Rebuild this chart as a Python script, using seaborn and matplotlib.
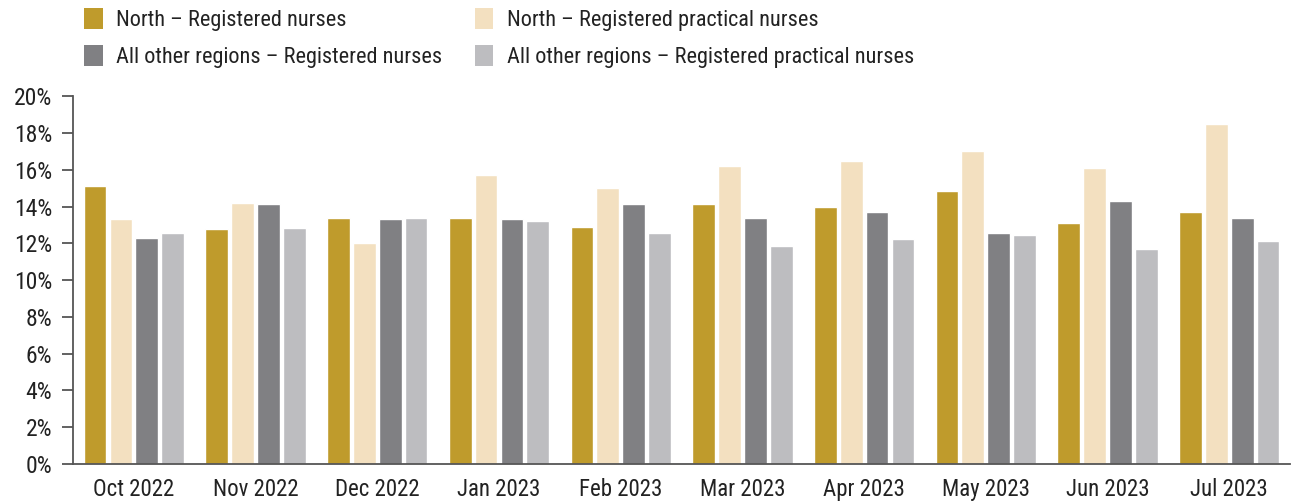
import matplotlib
matplotlib.use("Agg")
import matplotlib.pyplot as plt
import numpy as np
import pandas as pd
import seaborn as sns
from matplotlib.patches import Patch
from matplotlib.ticker import FixedLocator, PercentFormatter

# ---- data ----
months = ["Oct 2022", "Nov 2022", "Dec 2022", "Jan 2023", "Feb 2023",
          "Mar 2023", "Apr 2023", "May 2023", "Jun 2023", "Jul 2023"]
north_rn = [15.1, 12.8, 13.4, 13.4, 12.9, 14.15, 13.95, 14.85, 13.1, 13.7]
north_rpn = [13.3, 14.2, 12.0, 15.7, 15.0, 16.2, 16.5, 17.0, 16.1, 18.5]
other_rn = [12.3, 14.15, 13.3, 13.3, 14.15, 13.4, 13.7, 12.55, 14.3, 13.4]
other_rpn = [12.55, 12.85, 13.35, 13.2, 12.55, 11.85, 12.25, 12.45, 11.7, 12.15]

series = ["North – Registered nurses", "North – Registered practical nurses",
          "All other regions – Registered nurses", "All other regions – Registered practical nurses"]
colors = ["#BF9B2C", "#F3E0C0", "#808083", "#BDBDC0"]

df = pd.DataFrame({
    "month": months * 4,
    "value": north_rn + north_rpn + other_rn + other_rpn,
    "series": np.repeat(series, len(months)),
})

sns.set_theme(style="white")
plt.rcParams["font.family"] = ["Roboto Condensed", "DejaVu Sans"]
TXT = "#222222"
SPINE = "#555555"
FS = 16

fig = plt.figure(figsize=(12.92, 5.01), dpi=100)
ax = fig.add_axes([0.0565, 0.074, 0.942, 0.734])

sns.barplot(data=df, x="month", y="value", hue="series", hue_order=series,
            palette=colors, width=0.85, gap=0.12, errorbar=None,
            saturation=1, legend=False, ax=ax)

ax.set_xlim(-0.5, len(months) - 0.5)
ax.set_ylim(0, 20)
ax.set_yticks(np.arange(0, 21, 2))
ax.yaxis.set_major_formatter(PercentFormatter(decimals=0))
ax.set_xlabel("")
ax.set_ylabel("")

# category boundary ticks
ax.xaxis.set_minor_locator(FixedLocator(np.arange(-0.5, len(months), 1)))
ax.tick_params(axis="x", which="major", length=0, pad=10, labelsize=16.5, labelcolor=TXT)
ax.tick_params(axis="x", which="minor", length=10, width=1.3, color=SPINE, direction="out")
ax.tick_params(axis="y", length=8, width=1.3, color=SPINE, direction="out",
               pad=7, labelsize=17, labelcolor=TXT, left=True)

sns.despine(ax=ax)
for s in ["left", "bottom"]:
    ax.spines[s].set_color(SPINE)
    ax.spines[s].set_linewidth(1.3)

# legend: 2 columns, north on row 1, others on row 2
order = [0, 2, 1, 3]
handles = [Patch(facecolor=colors[i], edgecolor="none") for i in order]
labels = [series[i] for i in order]
fig.legend(handles, labels, ncol=2, loc="upper left", bbox_to_anchor=(0.065, 0.985),
           frameon=False, fontsize=FS, labelcolor=TXT, handlelength=0.85,
           handleheight=1.1, handletextpad=0.6, columnspacing=1.45, labelspacing=0.62,
           borderpad=0, borderaxespad=0)

fig.savefig("out.png", dpi=100)
